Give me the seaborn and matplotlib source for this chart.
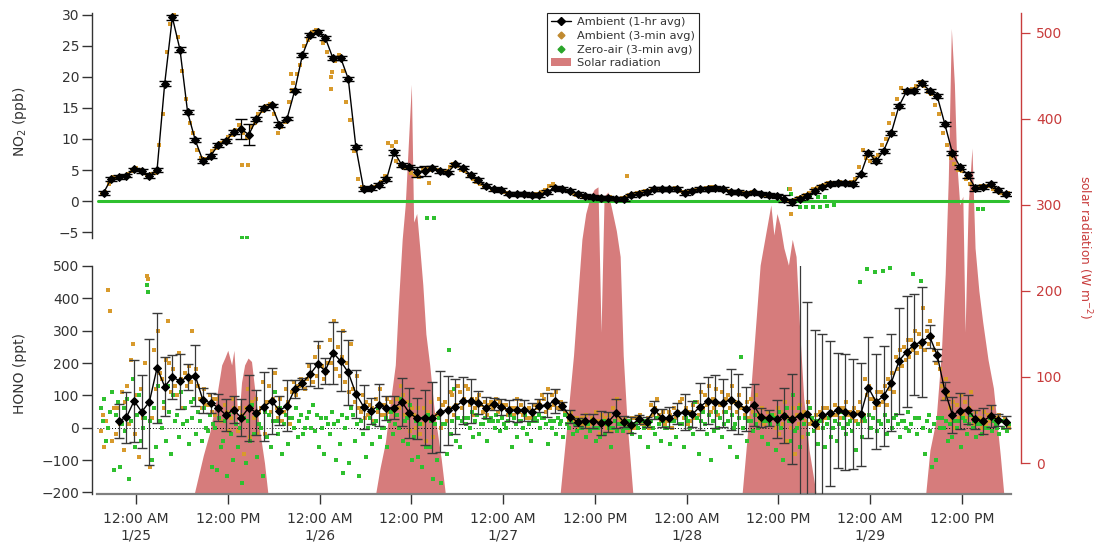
import numpy as np
import matplotlib.pyplot as plt
import seaborn as sns
from matplotlib.lines import Line2D
from matplotlib.patches import Patch

# hourly averages, hours after 12:00 AM 1/25 (first one at 7:45 PM 1/24)
first_hour = -4.25

no2_hourly = [
    1.3, 3.6, 3.9, 4.1, 5.1, 4.9, 4.0, 5.0, 18.9, 29.6,
    24.4, 14.3, 9.8, 6.5, 7.3, 9.0, 9.7, 11.1, 11.6, 10.7,
    13.2, 15.0, 15.4, 12.3, 13.3, 17.8, 23.5, 26.7, 27.2, 26.3,
    23.0, 23.1, 19.7, 8.7, 2.0, 2.1, 2.6, 3.5, 7.9, 5.8,
    5.5, 4.7, 4.9, 5.3, 4.9, 4.6, 5.9, 5.4, 4.2, 3.4,
    2.4, 2.0, 1.8, 1.2, 1.1, 1.1, 1.0, 1.0, 1.5, 2.1,
    1.9, 1.7, 1.2, 0.8, 0.6, 0.5, 0.5, 0.4, 0.3, 0.9,
    1.2, 1.5, 1.9, 1.9, 1.9, 1.9, 1.3, 1.7, 1.9, 2.0,
    2.1, 1.9, 1.5, 1.5, 1.2, 1.4, 1.2, 1.0, 0.8, 0.4,
    -0.1, 0.4, 0.8, 1.6, 2.3, 2.8, 2.9, 2.9, 2.8, 4.3,
    7.8, 6.4, 8.1, 11.0, 15.3, 17.7, 17.7, 19.0, 17.8, 16.9,
    12.4, 7.7, 5.5, 4.2, 2.1, 2.3, 2.7, 1.8, 1.1]

no2_err = [
    0.3, 0.3, 0.3, 0.3, 0.3, 0.3, 0.3, 0.3, 0.4, 0.4,
    0.4, 0.3, 0.3, 0.3, 0.3, 0.3, 0.3, 0.3, 1.6, 1.7,
    0.3, 0.3, 0.3, 0.4, 0.3, 0.3, 0.3, 0.3, 0.3, 0.3,
    0.3, 0.3, 0.3, 0.3, 0.3, 0.3, 0.3, 0.3, 0.4, 0.3,
    0.3, 0.8, 0.8, 0.3, 0.3, 0.3, 0.3, 0.3, 0.3, 0.3,
    0.3, 0.3, 0.3, 0.3, 0.3, 0.3, 0.3, 0.3, 0.3, 0.3,
    0.3, 0.3, 0.3, 0.3, 0.3, 0.3, 0.3, 0.3, 0.3, 0.3,
    0.3, 0.3, 0.3, 0.3, 0.3, 0.3, 0.3, 0.3, 0.3, 0.3,
    0.3, 0.3, 0.3, 0.3, 0.3, 0.3, 0.3, 0.3, 0.3, 0.5,
    0.5, 0.3, 0.3, 0.3, 0.3, 0.3, 0.3, 0.3, 0.3, 0.3,
    0.3, 0.3, 0.3, 0.3, 0.3, 0.3, 0.3, 0.3, 0.3, 0.3,
    0.3, 0.3, 0.3, 0.5, 0.5, 0.3, 0.3, 0.3, 0.3]

nan = float("nan")
hono_hourly = [
    nan, nan, 21, 32, 83, 49, 80, 185, 127, 157,
    144, 157, 161, 85, 77, 62, 39, 56, 31, 62,
    46, 65, 83, 53, 68, 119, 138, 165, 196, 176,
    232, 206, 171, 105, 65, 51, 70, 60, 62, 80,
    45, 29, 31, 31, 49, 54, 65, 83, 83, 77,
    62, 73, 65, 54, 54, 54, 49, 68, 70, 83,
    67, 34, 18, 21, 20, 15, 18, 45, 18, 8,
    26, 18, 56, 31, 31, 44, 49, 42, 65, 83,
    80, 77, 87, 72, 58, 70, 32, 31, 27, 37,
    27, 37, 41, 10, 39, 44, 54, 49, 42, 41,
    124, 80, 98, 139, 206, 235, 257, 266, 283, 224,
    114, 39, 52, 56, 26, 21, 36, 24, 18]

hono_err = [
    nan, nan, 52, 79, 127, 113, 195, 169, 91, 68,
    85, 41, 95, 38, 31, 42, 49, 43, 57, 102,
    70, 107, 103, 45, 78, 27, 17, 35, 72, 41,
    96, 92, 100, 74, 68, 41, 64, 37, 36, 75,
    77, 64, 85, 110, 125, 107, 85, 73, 67, 36,
    33, 19, 25, 33, 35, 32, 28, 20, 37, 37,
    13, 20, 13, 21, 21, 37, 31, 45, 17, 25,
    14, 15, 28, 28, 33, 33, 55, 40, 73, 73,
    82, 75, 95, 93, 69, 65, 30, 25, 58, 85,
    138, 468, 348, 292, 250, 225, 178, 180, 170, 160,
    156, 147, 155, 150, 165, 172, 155, 170, 36, 18,
    27, 55, 56, 45, 30, 40, 33, 19, 19]

# 3-min ambient NO2, two readings per hour (quarter past / quarter to)
no2_amb_3min = [
    1.2, 1.4, 2.8, 3.8, 3.8, 4.0, 4.0, 4.4, 4.8, 5.3,
    5.0, 4.6, 4.2, 4.3, 4.5, 9.0, 14.0, 24.0, 28.5, 30.0,
    26.5, 21.0, 16.5, 12.5, 11.0, 8.2, 7.0, 6.8, 7.0, 8.0,
    8.5, 9.4, 9.5, 10.4, 10.6, 11.5, 12.3, 11.0, 10.2, 12.0,
    12.6, 14.0, 14.5, 15.3, 15.6, 14.0, 11.0, 12.0, 12.8, 16.0,
    19.0, 20.5, 22.0, 25.0, 26.0, 27.3, 27.5, 27.0, 25.5, 24.0,
    20.0, 22.5, 23.6, 21.0, 16.0, 13.0, 8.0, 3.5, 2.2, 1.9,
    2.0, 2.3, 2.5, 3.0, 4.0, 9.3, 8.8, 6.5, 5.6, 5.4,
    5.5, 4.5, 4.0, 3.8, 5.2, 5.4, 5.0, 5.4, 5.0, 4.8,
    4.8, 5.5, 6.0, 5.7, 5.0, 4.8, 4.0, 3.6, 3.0, 2.8,
    2.3, 2.2, 2.0, 1.9, 1.6, 1.5, 1.3, 1.1, 1.2, 1.0,
    1.0, 1.1, 1.0, 1.1, 1.2, 1.4, 1.8, 2.5, 2.7, 2.0,
    1.9, 1.8, 1.6, 1.3, 1.0, 0.9, 0.8, 0.7, 0.6, 0.5,
    0.7, 0.5, 0.4, 0.6, 0.3, 0.2, 0.5, 0.7, 1.0, 1.1,
    1.3, 1.4, 1.6, 1.7, 1.9, 2.0, 1.8, 2.0, 2.0, 1.8,
    2.1, 1.6, 1.4, 1.5, 1.7, 1.8, 2.0, 2.0, 2.1, 2.2,
    2.2, 2.0, 2.0, 1.8, 1.6, 1.5, 1.4, 1.5, 1.3, 1.3,
    1.5, 1.3, 1.1, 1.0, 1.0, 0.9, 0.7, 0.6, 0.3, 0.1,
    0.0, 0.2, 0.5, 0.6, 1.0, 1.3, 1.9, 2.1, 2.5, 2.6,
    2.9, 2.9, 2.9, 3.0, 2.8, 2.9, 3.0, 3.6, 5.5, 8.3,
    7.0, 6.5, 7.0, 7.5, 9.0, 10.0, 12.5, 14.0, 16.5, 18.2,
    17.5, 17.9, 18.0, 18.6, 19.2, 18.5, 17.5, 17.3, 15.5, 14.0,
    11.0, 9.0, 7.0, 6.0, 5.0, 4.8, 3.5, 2.8, 2.0, 2.2,
    2.4, 2.5, 2.4, 2.0, 1.6, 1.3, 1.2, 1.3]
no2_amb_extra_t = [13.9, 14.6, 20.3, 20.4, 25.5, 25.6, 34.0, 38.3, 64.2, 85.5, 85.6]
no2_amb_extra_v = [5.8, 5.8, 20.5, 17.9, 18.0, 20.8, 9.5, 2.9, 4.1, 1.9, -2.1]

# zero-air NO2 sits on zero, the 3-min points merge into one line
no2_zero_t = [-5.0, 114.0]
no2_zero_v = [0.0, 0.0]
no2_zero_extra_t = [13.9, 14.5, 38.1, 38.9, 85.4, 85.6, 86.8, 87.6, 88.5,
                    89.4, 90.3, 91.2, 88.1, 89.2, 90.1, 110.1, 110.7]
no2_zero_extra_v = [-5.9, -5.9, -2.7, -2.7, 1.9, 1.2, -1.0, -1.0, -1.0,
                    -0.9, -0.8, -0.6, 0.7, 0.7, 0.7, -1.3, -1.3]

# 3-min HONO, four readings per hour
hono_amb_3min = [
    -10, 40, -60, 20, 425, 360, -40, 60, -20, 60, 10, 110, -70, 80, 130, 10,
    210, 260, -20, 100, -90, 120, 30, 200, 470, 460, -120, 30, 240, 120, 300, 170,
    150, 60, 210, 330, 200, 110, 180, 130, 100, 230, 150, 60, 170, 130, 190, 140,
    300, 90, 180, 130, 90, 60, 120, 70, 70, 100, 50, 90, 40, 90, 60, 20,
    20, 70, 50, -10, 30, 90, 60, 10, -10, 60, 40, -80, 60, 120, -30, 80,
    30, 90, -20, 50, 60, 140, -20, 80, 130, 50, 90, 170, 60, 30, 90, 20,
    50, 120, 80, 10, 110, 140, 100, 130, 130, 150, 140, 120, 150, 190, 170, 140,
    220, 160, 250, 190, 190, 150, 170, 200, 270, 200, 330, 180, 250, 160, 220, 300,
    140, 200, 110, 260, 120, 80, 160, 60, 50, 100, 30, 80, 40, 70, 60, 20,
    90, 50, 120, 40, 70, 40, 90, 50, 80, 50, 40, 90, 60, 130, 100, 40,
    30, 80, -10, 60, 40, 0, 60, -20, 10, 60, -40, 50, 30, 80, -30, 10,
    40, 90, 0, 70, 80, 20, 60, 110, 100, 40, 70, 130, 110, 60, 90, 130,
    120, 70, 90, 40, 60, 90, 100, 70, 50, 80, 40, 70, 80, 60, 70, 90,
    50, 80, 70, 60, 70, 40, 50, 60, 40, 60, 90, 50, 70, 40, 50, 30,
    60, 30, 40, 70, 60, 80, 70, 100, 90, 50, 120, 60, 100, 70, 110, 60,
    60, 80, 70, 50, 40, 20, 50, 30, 20, 30, 0, 10, 30, 10, 40, 0,
    10, 30, 0, 50, 20, -20, 40, 10, 30, 0, 40, -10, 60, 20, 90, 30,
    20, 10, 30, 0, 10, -10, 30, 0, 30, 20, 40, 10, 20, 10, 30, 0,
    70, 40, 60, 90, 40, 20, 50, 10, 20, 50, 40, 0, 60, 30, 50, 80,
    90, 30, 60, 10, 50, 20, 70, 30, 80, 40, 110, 60, 100, 70, 130, 50,
    90, 60, 120, 40, 70, 110, 50, 90, 100, 60, 130, 80, 80, 50, 100, 60,
    60, 40, 80, 30, 90, 50, 70, 100, 40, 20, 60, 10, 30, 50, 10, 40,
    40, 0, 60, -20, 50, 10, 80, -40, 30, 0, 60, -80, 40, 10, 70, -30,
    50, 20, 80, 10, 20, -10, 40, 0, 50, 20, 60, 30, 60, 30, 50, 40,
    70, 40, 60, 30, 60, 30, 80, 40, 50, 30, 60, 20, 50, 80, 20, 40,
    150, 100, 130, 90, 90, 60, 110, 70, 110, 80, 130, 70, 150, 120, 170, 110,
    220, 180, 240, 190, 250, 210, 270, 220, 270, 240, 300, 230, 290, 250, 370, 240,
    300, 260, 330, 280, 240, 200, 260, 180, 130, 90, 150, 100, 60, 20, 80, 0,
    70, 30, 100, 40, 80, 30, 60, 110, 30, 10, 50, 20, 30, 0, 50, 10,
    40, 20, 60, 30, 30, 10, 40, 20, 20, 30, 10, 0]

hono_zero_3min = [
    60, 20, 90, -40, 0, 50, 110, -130, 40, 80, -120, 10, 60, -10, 90, -160,
    20, 150, -60, 40, 100, -40, 0, 30, 440, 420, 20, -100, 60, -60, 130, 20,
    0, 80, -40, 130, 50, -80, 100, 20, 40, -30, 110, 10, 60, 20, -50, 80,
    30, 90, -20, 50, 20, -40, 60, 0, -10, 40, -120, 10, 0, -130, 30, -60,
    -40, 20, -150, 40, -20, -100, 50, 10, -60, 0, -170, 30, -110, 20, -40, 70,
    -20, 40, -90, 10, 0, -150, 50, -30, 40, -60, 20, 110, 20, -20, 60, -80,
    10, 40, -50, 30, 30, 0, 60, -30, 20, 40, -20, 0, 30, 50, 0, 70,
    -10, 40, -60, 30, 0, -80, 30, 10, -20, 50, 10, -100, 20, -50, 40, -140,
    0, 30, -110, 60, 40, -40, 10, -150, 20, -20, 60, -90, 0, 30, -50, 10,
    20, 60, -30, 0, 0, 30, -60, 20, 50, -20, 10, 40, 0, 90, -40, 20,
    30, -50, 70, -100, -30, 20, -90, 10, -120, 30, -60, 40, -60, 20, -160, 10,
    -100, 30, -170, 10, 10, -80, 240, -20, 20, 120, -40, 30, -60, 20, 30, 10,
    30, 0, 50, -30, 20, 40, -20, 10, 10, 30, -40, 20, 30, 20, 0, 40,
    20, -10, 30, 10, 0, 20, 40, -60, 30, 10, -30, 20, 20, 0, 40, -20,
    10, -40, 20, 30, 20, 40, 0, 30, 30, 10, -50, 20, 0, 20, -20, 30,
    10, 20, -30, 40, 10, 0, 20, -20, 10, -10, 20, 0, 0, 20, -30, 10,
    -10, 20, 0, -40, 0, -30, 10, 20, -20, 10, 0, -60, 0, 20, -10, 10,
    10, -10, 0, 20, 0, 20, -20, 10, 10, 0, -30, 20, 0, 20, -60, 10,
    20, 0, -20, 30, 10, -40, 20, 0, 0, 30, -50, 20, 20, -30, 40, 10,
    10, -60, 30, 20, 0, 40, -20, 80, 30, -80, 20, 50, 10, -20, 40, -100,
    20, -10, 50, 0, 30, -30, 10, 50, 20, -60, 40, 0, 10, -90, 30, 220,
    0, 30, -40, 20, 20, -10, 40, 10, 0, 30, -30, 20, 20, -50, 10, 40,
    30, -70, 10, 50, 0, -100, 40, 60, 20, -40, 100, -10, 0, 60, -60, 30,
    10, 40, -20, 60, 30, -10, 20, -50, 20, 40, 0, -60, 10, 30, -30, 0,
    20, -40, 10, 50, 0, 30, -20, 10, 20, -10, 40, -70, 10, 449, -30, 30,
    20, 490, 40, 0, 30, 480, -10, 20, 10, 485, 40, -20, 20, 495, 0, 30,
    40, 10, -30, 20, 20, 0, 50, -10, 10, 475, 30, -20, 30, 455, 0, -80,
    20, 40, -10, -120, 10, -100, 30, 0, 30, 0, 20, -40, 10, -30, 40, 20,
    0, 20, -60, 30, 20, -20, 10, 40, 0, 20, -30, 10, 10, -20, 20, 0,
    0, 30, -10, 20, 10, 0, -20, 20, 0, 20, -10, 10]

# solar radiation (W m-2), daylight hours only
solar_hours = [
    7.5, 8.8, 9.65, 10.5, 11.2, 11.6, 12.0, 12.5, 12.8, 13.1, 13.35, 13.8,
    14.2, 14.65, 15.1, 15.5, 16.2, 16.8, 17.3,
    31.25, 31.9, 32.6, 33.2, 33.9, 34.3, 34.8, 35.2, 35.6, 36.0, 36.3, 36.7,
    37.1, 37.5, 37.9, 38.4, 39.0, 39.4, 39.9, 40.5,
    55.4, 56.3, 57.2, 57.8, 58.3, 58.8, 59.4, 59.9, 60.4, 60.8, 61.2, 61.7,
    62.2, 62.8, 63.3, 63.7, 64.2, 65.0,
    79.2, 79.9, 80.5, 81.1, 81.6, 82.1, 82.6, 83.0, 83.4, 83.8, 84.2, 84.7,
    85.3, 85.8, 86.3, 86.8, 87.3, 88.0, 89.0,
    103.2, 103.8, 104.6, 105.3, 105.8, 106.2, 106.6, 107.0, 107.3, 107.7,
    108.1, 108.4, 108.8, 109.3, 109.7, 110.2, 110.7, 111.4, 112.1, 113.0, 113.5]
solar_wm2 = [
    -40, 9, 36, 75, 114, 122, 131, 114, 131, 87, 41, 94,
    114, 122, 118, 87, 36, 0, -40,
    -40, -6, 24, 67, 114, 184, 260, 300, 370, 440, 280, 290,
    250, 207, 150, 114, 60, 36, 5, -40,
    -40, 41, 125, 199, 260, 290, 310, 318, 321, 152, 310, 315,
    295, 270, 240, 125, 48, -40,
    -40, 30, 100, 170, 230, 255, 280, 300, 265, 290, 277, 250,
    230, 260, 240, 150, 75, 15, -40,
    -40, 15, 50, 130, 220, 330, 505, 440, 350, 300,
    310, 152, 300, 366, 250, 200, 164, 120, 87, 9, -40]

tick_hours = [0, 12, 24, 36, 48, 60, 72, 84, 96, 108]
tick_labels = ["12:00 AM\n1/25", "12:00 PM", "12:00 AM\n1/26", "12:00 PM",
               "12:00 AM\n1/27", "12:00 PM", "12:00 AM\n1/28", "12:00 PM",
               "12:00 AM\n1/29", "12:00 PM"]

# ---- style ----
sns.set_theme(style="white")
plt.rcParams["font.family"] = ["DejaVu Sans"]
ink = "#333333"
orange = "#d89a2c"
green = "#2fc02f"
sun_fill = "#d67c7c"
sun_axis = "#c83c3c"

hours = first_hour + np.arange(len(no2_hourly))
t_4 = np.repeat(hours, 4) + np.tile([-0.375, -0.125, 0.125, 0.375], len(hours))
t_2 = np.repeat(hours, 2) + np.tile([-0.25, 0.25], len(hours))

W, H = 1101, 552
def box(x0, y0, x1, y1):
    return [x0 / W, 1 - y1 / H, (x1 - x0) / W, (y1 - y0) / H]

fig = plt.figure(figsize=(W / 100, H / 100), dpi=100)
ax_sun = fig.add_axes(box(97, 13, 1011, 494))
ax_no2 = fig.add_axes(box(97, 13, 1011, 238))
ax_hono = fig.add_axes(box(97, 266, 1011, 494))
xlim = (-5.1, 114.4)

# solar radiation in the back
ax_sun.set_zorder(0)
ax_sun.fill_between(solar_hours, -40, solar_wm2, color=sun_fill, lw=0)
ax_sun.set_xlim(*xlim)
ax_sun.set_ylim(-36, 523)
ax_sun.set_xticks([])
ax_sun.yaxis.tick_right()
ax_sun.set_yticks([0, 100, 200, 300, 400, 500])
for s in ["left", "top", "bottom"]:
    ax_sun.spines[s].set_visible(False)
ax_sun.spines["right"].set_color(sun_axis)
ax_sun.spines["right"].set_linewidth(1)
ax_sun.spines["right"].set_position(("outward", 7.2))
ax_sun.spines["right"].set_bounds(0, 523)
ax_sun.tick_params(axis="y", right=True, direction="out", length=6.7, width=0.9,
                   color=sun_axis, labelcolor=sun_axis, labelsize=10, pad=4)

# NO2 panel
ax_no2.set_zorder(2)
ax_no2.patch.set_visible(False)
ax_no2.plot(no2_zero_t, no2_zero_v, color=green, lw=2.2, zorder=2)
sns.scatterplot(x=no2_zero_extra_t, y=no2_zero_extra_v, ax=ax_no2, color=green,
                s=6, marker="s", linewidth=0, zorder=2)
sns.scatterplot(x=t_2, y=no2_amb_3min, ax=ax_no2, color=orange, s=7, marker="s",
                linewidth=0, zorder=3)
sns.scatterplot(x=no2_amb_extra_t, y=no2_amb_extra_v, ax=ax_no2, color=orange,
                s=7, marker="s", linewidth=0, zorder=3)
ax_no2.errorbar(hours, no2_hourly, yerr=no2_err, fmt="none", ecolor="black",
                elinewidth=0.9, capsize=4.3, capthick=1.0, zorder=4)
sns.lineplot(x=hours, y=no2_hourly, ax=ax_no2, color="black", lw=1, marker="D",
             markersize=4.5, markeredgecolor="black", zorder=5)
ax_no2.set_xlim(*xlim)
ax_no2.set_ylim(-5.95, 30.3)
ax_no2.set_yticks([-5, 0, 5, 10, 15, 20, 25, 30])
ax_no2.set_xticks([])
for s in ["top", "right", "bottom"]:
    ax_no2.spines[s].set_visible(False)

# HONO panel
ax_hono.set_zorder(2)
ax_hono.patch.set_visible(False)
ax_hono.axhline(0, color="black", lw=0.7, ls=(0, (1, 2)), zorder=1)
sns.scatterplot(x=t_4, y=hono_amb_3min, ax=ax_hono, color=orange, s=9, marker="s",
                linewidth=0, zorder=2)
sns.scatterplot(x=t_4, y=hono_zero_3min, ax=ax_hono, color=green, s=9, marker="s",
                linewidth=0, zorder=2)
ax_hono.errorbar(hours, hono_hourly, yerr=hono_err, fmt="none", ecolor="#3a3a3a",
                 elinewidth=0.9, capsize=3.6, capthick=1.0, zorder=4)
sns.lineplot(x=hours, y=hono_hourly, ax=ax_hono, color="black", lw=1, marker="D",
             markersize=4.5, markeredgecolor="black", zorder=5)
ax_hono.set_xlim(*xlim)
ax_hono.set_ylim(-205, 500)
ax_hono.set_yticks([-200, -100, 0, 100, 200, 300, 400, 500])
ax_hono.set_xticks(tick_hours)
ax_hono.set_xticklabels(tick_labels)
for s in ["top", "right"]:
    ax_hono.spines[s].set_visible(False)
ax_hono.spines["bottom"].set_color("#808080")
ax_hono.spines["bottom"].set_linewidth(1.6)
ax_hono.tick_params(axis="x", bottom=True, direction="out", length=7.2, width=1,
                    color=ink, labelcolor=ink, labelsize=10, pad=6)

for ax in (ax_no2, ax_hono):
    ax.set_xlabel("")
    ax.set_ylabel("")
    ax.spines["left"].set_position(("outward", 3.6))
    ax.spines["left"].set_color(ink)
    ax.spines["left"].set_linewidth(1)
    ax.tick_params(axis="y", left=True, direction="out", length=7.2, width=1,
                   color=ink, labelcolor=ink, labelsize=10, pad=2)

fig.text(20 / W, 1 - 122 / H, "NO$_2$ (ppb)", rotation=90, ha="center",
         va="center", fontsize=10, color=ink)
fig.text(20 / W, 1 - 373 / H, "HONO (ppt)", rotation=90, ha="center",
         va="center", fontsize=10, color=ink)
fig.text(1085 / W, 1 - 247 / H, "solar radiation (W m$^{-2}$)", rotation=270,
         ha="center", va="center", fontsize=8.8, color=sun_axis)

handles = [
    Line2D([], [], color="black", lw=1, marker="D", markersize=4),
    Line2D([], [], ls="none", marker="D", markersize=3.5, color="#c08a30"),
    Line2D([], [], ls="none", marker="D", markersize=3.5, color="#2aa52a"),
    Patch(facecolor=sun_fill, edgecolor="none"),
]
labels = ["Ambient (1-hr avg)", "Ambient (3-min avg)", "Zero-air (3-min avg)",
          "Solar radiation"]
leg = ax_no2.legend(handles, labels, loc="upper left",
                    bbox_to_anchor=(547 / W, 1 - 13 / H),
                    bbox_transform=fig.transFigure, borderaxespad=0,
                    frameon=True, fancybox=False, framealpha=1, fontsize=8.2,
                    borderpad=0.35, labelspacing=0.33, handlelength=1.8,
                    handletextpad=0.5)
leg.get_frame().set_edgecolor("#222222")
leg.get_frame().set_linewidth(0.8)
for txt in leg.get_texts():
    txt.set_color(ink)

fig.savefig("out.png", dpi=100)
